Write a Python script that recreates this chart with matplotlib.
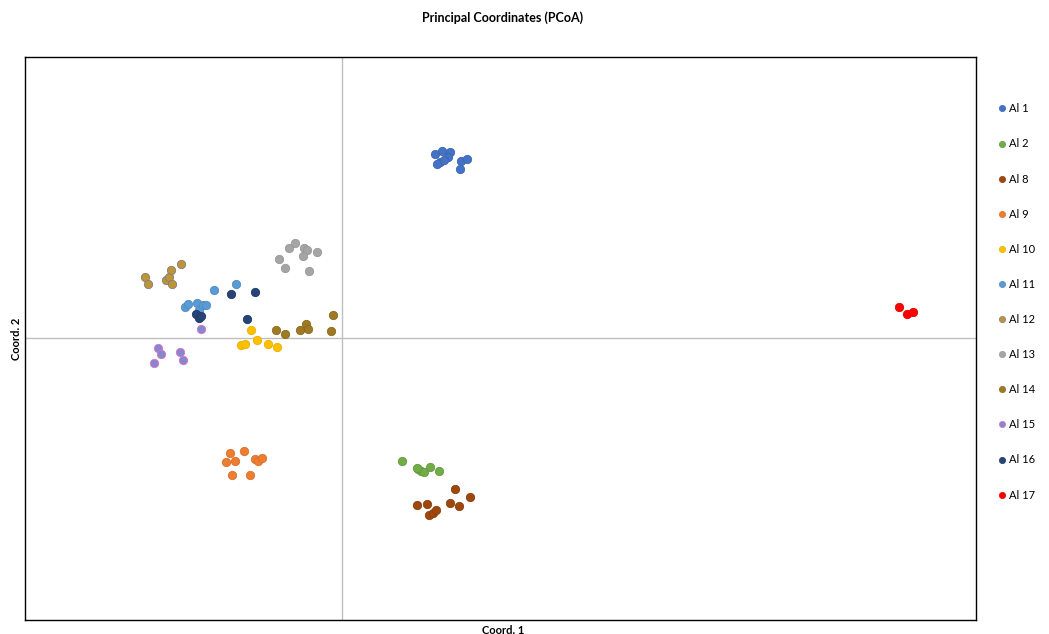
import matplotlib
matplotlib.use("Agg")
import matplotlib.pyplot as plt
from matplotlib.lines import Line2D

plt.rcParams["font.family"] = ["Lato", "DejaVu Sans"]

labels = ["Al 1", "Al 2", "Al 8", "Al 9", "Al 10", "Al 11",
          "Al 12", "Al 13", "Al 14", "Al 15", "Al 16", "Al 17"]

coord1 = {
    "Al 1": [0.093, 0.100, 0.108, 0.106, 0.098, 0.095, 0.102, 0.119, 0.125, 0.118],
    "Al 2": [0.060, 0.076, 0.079, 0.082, 0.088, 0.097, 0.075],
    "Al 8": [0.113, 0.128, 0.075, 0.085, 0.108, 0.117, 0.087, 0.091, 0.094],
    "Al 9": [-0.112, -0.098, -0.116, -0.107, -0.087, -0.084, -0.080, -0.110, -0.092],
    "Al 10": [-0.091, -0.101, -0.097, -0.085, -0.074, -0.065],
    "Al 11": [-0.157, -0.154, -0.145, -0.143, -0.139, -0.136, -0.128, -0.106],
    "Al 12": [-0.197, -0.194, -0.176, -0.173, -0.171, -0.170, -0.161],
    "Al 13": [-0.063, -0.053, -0.047, -0.038, -0.035, -0.039, -0.025, -0.057, -0.033],
    "Al 14": [-0.066, -0.057, -0.042, -0.036, -0.034, -0.011, -0.009],
    "Al 15": [-0.141, -0.184, -0.181, -0.188, -0.162, -0.159],
    "Al 16": [-0.111, -0.087, -0.146, -0.143, -0.141, -0.095],
    "Al 17": [0.557, 0.565, 0.571],
}
coord2 = {
    "Al 1": [0.184, 0.187, 0.186, 0.181, 0.176, 0.174, 0.178, 0.177, 0.179, 0.169],
    "Al 2": [-0.123, -0.131, -0.133, -0.134, -0.129, -0.133, -0.130],
    "Al 8": [-0.151, -0.159, -0.167, -0.166, -0.165, -0.168, -0.177, -0.175, -0.172],
    "Al 9": [-0.115, -0.113, -0.124, -0.123, -0.121, -0.123, -0.120, -0.137, -0.137],
    "Al 10": [0.008, -0.007, -0.006, -0.002, -0.006, -0.009],
    "Al 11": [0.031, 0.034, 0.035, 0.028, 0.033, 0.033, 0.048, 0.054],
    "Al 12": [0.061, 0.054, 0.058, 0.061, 0.068, 0.054, 0.074],
    "Al 13": [0.079, 0.090, 0.095, 0.090, 0.088, 0.082, 0.086, 0.070, 0.067],
    "Al 14": [0.008, 0.004, 0.008, 0.014, 0.009, 0.007, 0.023],
    "Al 15": [0.009, -0.010, -0.016, -0.025, -0.014, -0.022],
    "Al 16": [0.044, 0.046, 0.024, 0.020, 0.022, 0.019],
    "Al 17": [0.031, 0.024, 0.026],
}

colors = {
    "Al 1": ("#4472C4", "#3D67B3"),
    "Al 2": ("#70AD47", "#639B3E"),
    "Al 8": ("#9E480E", "#8C400C"),
    "Al 9": ("#ED7D31", "#D9702A"),
    "Al 10": ("#FFC000", "#EBB000"),
    "Al 11": ("#5B9BD5", "#528CC2"),
    "Al 12": ("#BF9438", "#7F7F7F"),
    "Al 13": ("#A5A5A5", "#999999"),
    "Al 14": ("#9E7A25", "#8A6A1E"),
    "Al 15": ("#8388CF", "#E070C0"),
    "Al 16": ("#264478", "#1F3A66"),
    "Al 17": ("#FF0000", "#E00000"),
}

fig = plt.figure(figsize=(10.49, 6.34), dpi=100)
ax = fig.add_axes([0.0238, 0.0221, 0.9066, 0.888])

ax.axvline(0, color="#BFBFBF", lw=1.0, zorder=1)
ax.axhline(0, color="#BFBFBF", lw=1.0, zorder=1)

for lab in labels:
    face, edge = colors[lab]
    ax.scatter(coord1[lab], coord2[lab], s=36, c=face, edgecolors=edge,
               linewidths=0.6, zorder=3)

ax.set_xlim(-0.317, 0.634)
ax.set_ylim(-0.282, 0.281)
ax.set_xticks([])
ax.set_yticks([])
for sp in ax.spines.values():
    sp.set_color("black")
    sp.set_linewidth(1.0)

fig.text(0.4795, 0.972, "Principal Coordinates (PCoA)", ha="center", va="center",
         fontsize=9, fontweight="bold")
fig.text(0.4795, 0.006, "Coord. 1", ha="center", va="center",
         fontsize=8, fontweight="bold")
fig.text(0.016, 0.466, "Coord. 2", ha="center", va="center", rotation=90,
         fontsize=8, fontweight="bold")

handles = [Line2D([], [], ls="none", marker="o", ms=4.5,
                  markerfacecolor=colors[lab][0], markeredgecolor=colors[lab][1],
                  markeredgewidth=0.5) for lab in labels]
fig.legend(handles, labels, loc="upper left", bbox_to_anchor=(0.952, 0.837),
           frameon=False, fontsize=8, labelspacing=2.17, handlelength=0.6,
           handletextpad=0.3, borderpad=0, borderaxespad=0)

fig.savefig("out.png", dpi=100)
